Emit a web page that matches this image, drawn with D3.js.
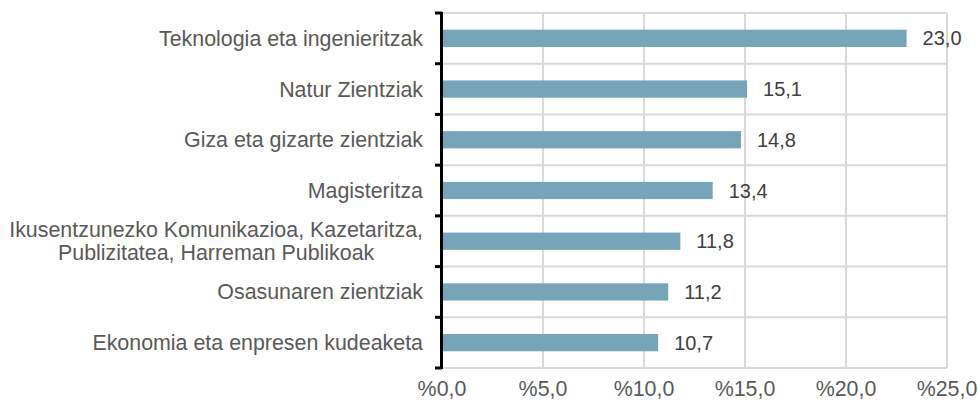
<!DOCTYPE html>
<meta charset="utf-8">
<style>
body { margin: 0; background: #fff; }
.cat text { font: 21.4px "Liberation Sans", Arial, sans-serif; fill: #595959; }
.xlab text { font: 21.4px "Liberation Sans", Arial, sans-serif; fill: #595959; }
.val { font: 20px "Liberation Sans", Arial, sans-serif; fill: #404040; }
</style>
<script src="https://cdn.jsdelivr.net/npm/d3@7/dist/d3.min.js"></script>
<body>
<svg id="chart" width="978" height="406"></svg>
<script>
var categories = [
    ["Teknologia eta ingenieritzak"],
    ["Natur Zientziak"],
    ["Giza eta gizarte zientziak"],
    ["Magisteritza"],
    ["Ikusentzunezko Komunikazioa, Kazetaritza,", "Publizitatea, Harreman Publikoak"],
    ["Osasunaren zientziak"],
    ["Ekonomia eta enpresen kudeaketa"]
];
var values = [23.0, 15.1, 14.8, 13.4, 11.8, 11.2, 10.7];
var xTicks = [0, 5, 10, 15, 20, 25];

var plotLeft = 442, plotRight = 947, plotTop = 13, plotBottom = 368;
var svg = d3.select("#chart");

var x = d3.scaleLinear().domain([0, 25]).range([plotLeft, plotRight]);
var y = d3.scaleBand().domain(d3.range(categories.length)).range([plotTop, plotBottom]).paddingInner(0.66).paddingOuter(0.33);
var step = y.step();
var fmt = function(v) { return v.toFixed(1).replace(".", ","); };

// grid: vertical at ticks, horizontal at band edges
svg.append("g").selectAll("line").data(xTicks.slice(1)).join("line")
    .attr("x1", d => x(d)).attr("x2", d => x(d))
    .attr("y1", plotTop).attr("y2", plotBottom)
    .attr("stroke", "#d9d9d9").attr("stroke-width", 2);
svg.append("g").selectAll("line").data(d3.range(categories.length + 1)).join("line")
    .attr("x1", plotLeft).attr("x2", plotRight)
    .attr("y1", i => plotTop + i * step).attr("y2", i => plotTop + i * step)
    .attr("stroke", "#d9d9d9").attr("stroke-width", 2);

// bars
svg.append("g").selectAll("rect").data(values).join("rect")
    .attr("x", x(0))
    .attr("y", (d, i) => y(i))
    .attr("width", d => x(d) - x(0))
    .attr("height", y.bandwidth())
    .attr("fill", "#76a4b8");

// value labels
svg.append("g").selectAll("text").data(values).join("text")
    .attr("class", "val")
    .attr("x", d => x(d) + 16)
    .attr("y", (d, i) => y(i) + y.bandwidth() / 2)
    .attr("dy", "0.35em")
    .text(fmt);

// y axis line and ticks at band edges
svg.append("line").attr("x1", plotLeft - 0.5).attr("x2", plotLeft - 0.5)
    .attr("y1", plotTop - 1).attr("y2", plotBottom + 1)
    .attr("stroke", "#000").attr("stroke-width", 3);
svg.append("g").selectAll("line").data(d3.range(categories.length + 1)).join("line")
    .attr("x1", plotLeft - 7).attr("x2", plotLeft)
    .attr("y1", i => plotTop + i * step).attr("y2", i => plotTop + i * step)
    .attr("stroke", "#000").attr("stroke-width", 3);

// category labels
var cat = svg.append("g").attr("class", "cat");
categories.forEach(function(lines, i) {
    var cy = y(i) + y.bandwidth() / 2;
    var g = cat.append("text");
    var lh = 23.5;
    lines.forEach(function(l, j) {
        g.append("tspan").attr("y", cy + (j - (lines.length - 1) / 2) * lh).attr("dy", "0.35em").text(l);
    });
    if (lines.length > 1) {
        var w = d3.max(g.selectAll("tspan").nodes(), n => n.getComputedTextLength());
        g.attr("text-anchor", "middle");
        g.selectAll("tspan").attr("x", plotLeft - 19 - w / 2);
    } else {
        g.attr("text-anchor", "end");
        g.selectAll("tspan").attr("x", plotLeft - 19);
    }
});

// x tick labels
svg.append("g").attr("class", "xlab").selectAll("text").data(xTicks).join("text")
    .attr("x", d => x(d)).attr("y", 396)
    .attr("text-anchor", "middle")
    .text(d => "%" + fmt(d));
</script>
</body>
